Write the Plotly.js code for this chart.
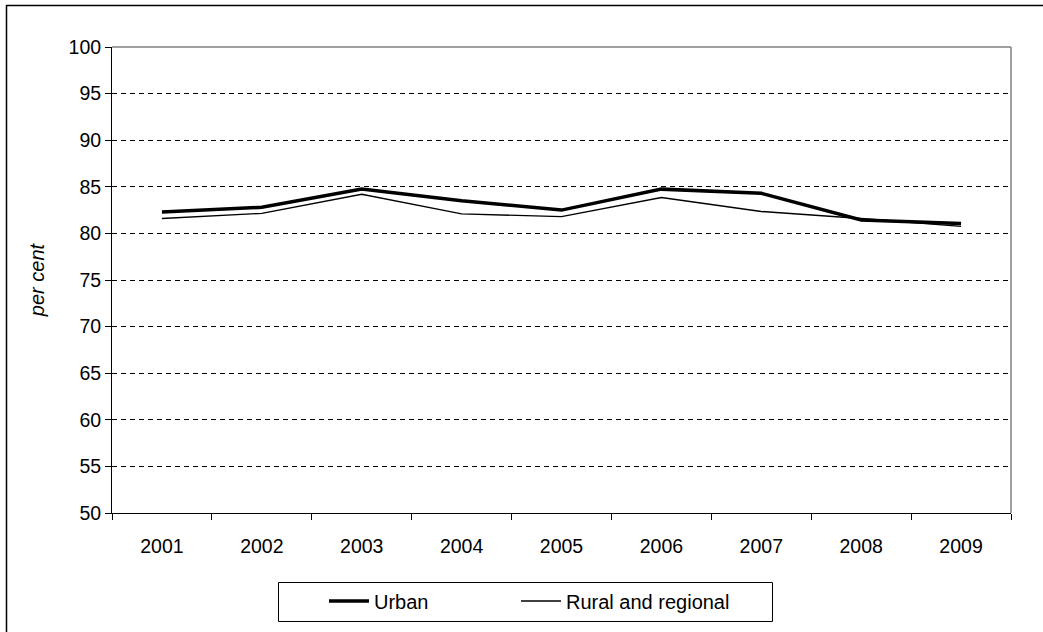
<!DOCTYPE html>
<html>
<head>
<meta charset="utf-8">
<script src="https://cdn.plot.ly/plotly-3.0.1.min.js"></script>
<style>
html,body{margin:0;padding:0;background:#fff;}
#chart{width:1043px;height:632px;}
</style>
</head>
<body>
<div id="chart"></div>
<script>
const years = ["2001","2002","2003","2004","2005","2006","2007","2008","2009"];
const urban = [82.3, 82.8, 84.75, 83.5, 82.5, 84.75, 84.3, 81.45, 81.05];
const rural = [81.6, 82.15, 84.2, 82.1, 81.8, 83.85, 82.35, 81.6, 80.75];
const yTicks = [50, 55, 60, 65, 70, 75, 80, 85, 90, 95, 100];

const FONT = "Liberation Sans, Arial, sans-serif";
const FS = 19.5;

const traces = [
  {x: years, y: urban, type: "scatter", mode: "lines", name: "Urban",
   line: {color: "#000", width: 3.5}, legend: "legend"},
  {x: years, y: rural, type: "scatter", mode: "lines", name: "Rural and regional",
   line: {color: "#000", width: 1.4}, legend: "legend2"}
];

const L = 112, R = 1011, T = 47, B = 513;
const W = R - L, H = B - T;
const px = v => (v - L) / W;
const py = v => (B - v) / H;

const legendBase = {
  orientation: "h", xanchor: "left", y: py(601), yanchor: "middle",
  borderwidth: 0, bgcolor: "rgba(0,0,0,0)",
  font: {family: FONT, size: 20, color: "#000"},
  itemwidth: 40
};

const layout = {
  width: 1043, height: 632,
  margin: {l: L, r: 1043 - R, t: T, b: 632 - B, pad: 0},
  paper_bgcolor: "#fff", plot_bgcolor: "#fff",
  font: {family: FONT, size: FS, color: "#000"},
  showlegend: true,
  xaxis: {
    type: "category", tickson: "boundaries", range: [-0.5, 8.5],
    ticks: "outside", ticklen: 6, tickcolor: "#000", tickwidth: 1,
    ticklabelstandoff: 16,
    showline: true, linecolor: "#000", linewidth: 1,
    showgrid: false, zeroline: false,
    tickfont: {family: FONT, size: FS, color: "#000"},
    fixedrange: true
  },
  yaxis: {
    range: [50, 100], tickvals: yTicks, ticktext: yTicks.map(String),
    ticks: "outside", ticklen: 6, tickcolor: "#000", tickwidth: 1,
    showline: true, linecolor: "#000", linewidth: 1,
    showgrid: true, gridcolor: "#000", gridwidth: 1, griddash: "5px,4px",
    zeroline: false,
    tickfont: {family: FONT, size: FS, color: "#000"},
    title: {text: "per cent", font: {family: FONT, size: 20, color: "#000", style: "italic"}, standoff: 18},
    fixedrange: true
  },
  legend: Object.assign({}, legendBase, {x: px(324)}),
  legend2: Object.assign({}, legendBase, {x: px(516)}),
  shapes: [
    {type: "line", xref: "paper", yref: "paper", x0: 0, x1: 1, y0: 1, y1: 1,
     line: {color: "#808080", width: 1.5}},
    {type: "line", xref: "paper", yref: "paper", x0: 1, x1: 1, y0: 0, y1: 1,
     line: {color: "#808080", width: 1.5}},
    {type: "rect", xref: "paper", yref: "paper",
     x0: px(6.5), x1: px(1048), y0: py(640), y1: py(5.5),
     line: {color: "#000", width: 1.5}, fillcolor: "rgba(0,0,0,0)"},
    {type: "rect", xref: "paper", yref: "paper",
     x0: px(278.5), x1: px(772.5), y0: py(621.5), y1: py(582.5),
     line: {color: "#000", width: 1}, fillcolor: "rgba(0,0,0,0)"}
  ]
};

Plotly.newPlot("chart", traces, layout, {displayModeBar: false, staticPlot: true});
</script>
</body>
</html>
